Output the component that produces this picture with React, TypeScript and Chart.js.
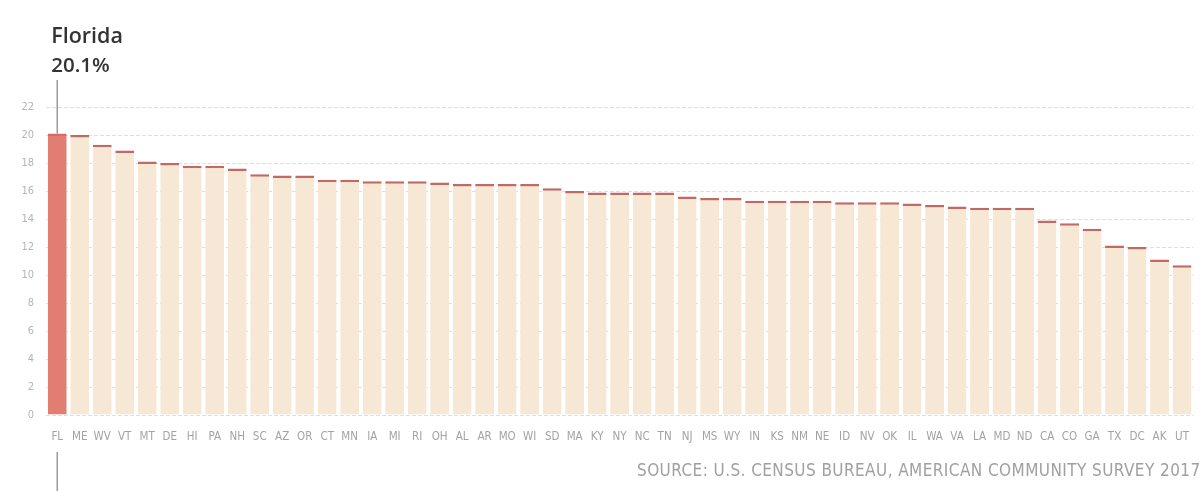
import React, { useEffect, useRef } from "react";
import { Chart, registerables } from "chart.js";

Chart.register(...registerables);

// Share of population aged 65 and older, by state (%)
const states = [
  "FL", "ME", "WV", "VT", "MT", "DE", "HI", "PA", "NH", "SC",
  "AZ", "OR", "CT", "MN", "IA", "MI", "RI", "OH", "AL", "AR",
  "MO", "WI", "SD", "MA", "KY", "NY", "NC", "TN", "NJ", "MS",
  "WY", "IN", "KS", "NM", "NE", "ID", "NV", "OK", "IL", "WA",
  "VA", "LA", "MD", "ND", "CA", "CO", "GA", "TX", "DC", "AK", "UT",
];

const shares = [
  20.1, 20.0, 19.3, 18.9, 18.1, 18.0, 17.8, 17.8, 17.6, 17.2,
  17.1, 17.1, 16.8, 16.8, 16.7, 16.7, 16.7, 16.6, 16.5, 16.5,
  16.5, 16.5, 16.2, 16.0, 15.9, 15.9, 15.9, 15.9, 15.6, 15.5,
  15.5, 15.3, 15.3, 15.3, 15.3, 15.2, 15.2, 15.2, 15.1, 15.0,
  14.9, 14.8, 14.8, 14.8, 13.9, 13.7, 13.3, 12.1, 12.0, 11.1, 10.7,
];

const yTicks = [0, 2, 4, 6, 8, 10, 12, 14, 16, 18, 20, 22];

const highlightIndex = 0;
const highlightName = "Florida";
const sourceText = "SOURCE: U.S. CENSUS BUREAU, AMERICAN COMMUNITY SURVEY 2017";

const W = 1204;
const H = 491;
const condensed = '"Liberation Sans Narrow", "DejaVu Sans Condensed", "Roboto", sans-serif';

const calloutPlugin = {
  id: "callout",
  afterDraw(chart: any) {
    const { ctx, scales } = chart;
    const x = scales.x.getPixelForValue(highlightIndex);
    const barTop = scales.y.getPixelForValue(shares[highlightIndex]);
    const axisBottom = scales.y.bottom;

    ctx.save();
    // marker line above the highlighted bar and below its label
    ctx.strokeStyle = "#9a9a9a";
    ctx.lineWidth = 1.5;
    ctx.beginPath();
    ctx.moveTo(x, 80);
    ctx.lineTo(x, barTop);
    ctx.moveTo(x, axisBottom + 37);
    ctx.lineTo(x, H);
    ctx.stroke();

    // callout text
    ctx.fillStyle = "#333333";
    ctx.textAlign = "left";
    ctx.textBaseline = "alphabetic";
    ctx.font = '600 21.5px "Open Sans", sans-serif';
    ctx.fillText(highlightName, x - 6, 43);
    ctx.font = '600 20.5px "Open Sans", sans-serif';
    ctx.fillText(shares[highlightIndex].toFixed(1) + "%", x - 6, 72);

    // source line, right aligned
    ctx.fillStyle = "#a0a0a0";
    ctx.font = "17px " + condensed;
    const targetWidth = 563;
    const natural = ctx.measureText(sourceText).width;
    const spacing = (targetWidth - natural) / (sourceText.length - 1);
    (ctx as any).letterSpacing = spacing.toFixed(2) + "px";
    ctx.textAlign = "left";
    ctx.fillText(sourceText, 1200 - targetWidth, 476);
    ctx.restore();
  },
};

export default function App() {
  const canvasRef = useRef<HTMLCanvasElement | null>(null);

  useEffect(() => {
    if (!canvasRef.current) return;
    const chart = new Chart(canvasRef.current, {
      type: "bar",
      data: {
        labels: states,
        datasets: [
          {
            data: shares,
            backgroundColor: states.map((_, i) => (i === highlightIndex ? "#e17d71" : "#f6e8d5")),
            borderColor: states.map((_, i) => (i === highlightIndex ? "#d96a5f" : "#c06a63")),
            borderWidth: { top: 2.5, left: 0, right: 0, bottom: 0 },
            borderSkipped: false,
            barPercentage: 0.84,
            categoryPercentage: 1,
          },
        ],
      },
      options: {
        responsive: false,
        animation: false,
        layout: { padding: { top: 107, right: 2, left: 0, bottom: 0 } },
        plugins: {
          legend: { display: false },
          tooltip: { enabled: false },
        },
        scales: {
          x: {
            grid: { display: false, drawTicks: false },
            border: { display: false },
            ticks: {
              color: "#a3a3a3",
              font: { family: condensed, size: 11.5 },
              padding: 15,
              autoSkip: false,
              maxRotation: 0,
            },
            afterFit(scale: any) {
              scale.height = 76;
            },
          },
          y: {
            min: 0,
            max: 22,
            afterBuildTicks(scale: any) {
              scale.ticks = yTicks.map((v) => ({ value: v }));
            },
            grid: {
              color: "#dedede",
              lineWidth: 1,
              drawTicks: false,
            },
            border: { display: false, dash: [4, 2] },
            ticks: {
              color: "#b5b5b5",
              font: { family: condensed, size: 11 },
              padding: 12,
            },
            afterFit(scale: any) {
              scale.width = 46;
            },
          },
        },
      },
      plugins: [calloutPlugin],
    });
    return () => chart.destroy();
  }, []);

  return (
    <div style={{ position: "fixed", left: 0, top: 0, width: W, height: H, background: "#ffffff" }}>
      <canvas ref={canvasRef} width={W} height={H} style={{ width: W, height: H, display: "block" }} />
    </div>
  );
}
